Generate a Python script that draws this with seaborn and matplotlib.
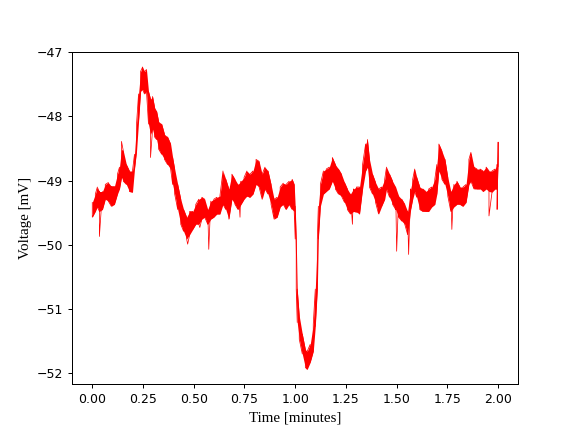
import numpy as np
import pandas as pd
import matplotlib
matplotlib.use('Agg')
import matplotlib.pyplot as plt
import seaborn as sb

# Values (upper / lower edge of the noisy band)
t_min = [0.000, 0.015, 0.025, 0.035, 0.050, 0.064, 0.079, 0.094, 0.109, 0.124,
         0.134, 0.144, 0.153, 0.168, 0.183, 0.198, 0.208, 0.218, 0.228, 0.238,
         0.248, 0.257, 0.267, 0.277, 0.287, 0.297, 0.307, 0.317, 0.327, 0.342,
         0.356, 0.371, 0.386, 0.396, 0.406, 0.421, 0.436, 0.450, 0.465, 0.480,
         0.495, 0.510, 0.525, 0.540, 0.554, 0.569, 0.584, 0.599, 0.614, 0.629,
         0.644, 0.658, 0.673, 0.688, 0.703, 0.718, 0.733, 0.748, 0.762, 0.777,
         0.792, 0.807, 0.822, 0.837, 0.851, 0.866, 0.881, 0.896, 0.911, 0.926,
         0.941, 0.955, 0.970, 0.985, 0.995, 1.000, 1.005, 1.010, 1.020, 1.035,
         1.050, 1.059, 1.074, 1.089, 1.099, 1.109, 1.114, 1.124, 1.139, 1.153,
         1.168, 1.183, 1.198, 1.213, 1.228, 1.243, 1.257, 1.272, 1.287, 1.302,
         1.317, 1.332, 1.347, 1.356, 1.366, 1.381, 1.396, 1.411, 1.426, 1.441,
         1.450, 1.465, 1.480, 1.495, 1.510, 1.525, 1.540, 1.554, 1.569, 1.579,
         1.589, 1.599, 1.614, 1.629, 1.644, 1.658, 1.673, 1.688, 1.698, 1.708,
         1.723, 1.738, 1.752, 1.767, 1.782, 1.797, 1.812, 1.827, 1.842, 1.856,
         1.866, 1.881, 1.896, 1.911, 1.926, 1.941, 1.955, 1.970, 1.985, 1.995,
         2.000]

v_hi = [-49.34, -49.21, -49.10, -49.17, -49.17, -49.06, -49.03, -49.09, -49.09, -48.90,
        -48.79, -48.51, -48.54, -48.75, -48.85, -48.85, -48.59, -48.12, -47.65, -47.30,
        -47.23, -47.30, -47.27, -47.61, -47.73, -47.69, -47.86, -47.92, -48.08, -48.12,
        -48.28, -48.32, -48.43, -48.64, -48.82, -49.06, -49.29, -49.45, -49.57, -49.48,
        -49.48, -49.37, -49.29, -49.26, -49.29, -49.45, -49.32, -49.29, -49.26, -49.24,
        -48.85, -48.98, -49.13, -48.90, -48.98, -49.06, -49.01, -48.95, -48.85, -48.90,
        -48.85, -48.67, -48.70, -48.90, -48.79, -48.85, -49.06, -49.29, -49.26, -49.10,
        -49.04, -49.06, -49.01, -48.98, -49.06, -49.40, -49.91, -50.69, -51.11, -51.39,
        -51.63, -51.66, -51.55, -51.24, -50.69, -49.91, -49.40, -49.06, -48.85, -48.82,
        -48.79, -48.64, -48.75, -48.82, -48.90, -49.03, -49.13, -49.21, -49.13, -49.10,
        -49.10, -48.75, -48.43, -48.36, -48.67, -48.90, -49.03, -49.13, -49.10, -48.98,
        -48.79, -48.90, -49.01, -49.10, -49.24, -49.29, -49.37, -49.48, -49.13, -48.98,
        -48.82, -48.95, -49.10, -49.13, -49.17, -49.13, -49.10, -48.98, -48.75, -48.43,
        -48.54, -48.67, -48.95, -49.17, -49.06, -49.01, -49.10, -49.10, -49.06, -48.67,
        -48.56, -48.79, -48.82, -48.82, -48.85, -48.79, -48.85, -48.85, -48.82, -48.75,
        -48.40]

v_lo = [-49.57, -49.48, -49.41, -49.48, -49.45, -49.29, -49.32, -49.40, -49.37, -49.21,
        -49.13, -48.95, -49.01, -49.06, -49.17, -49.18, -48.82, -48.54, -48.08, -47.61,
        -47.58, -47.65, -47.61, -48.12, -48.28, -48.20, -48.32, -48.36, -48.51, -48.59,
        -48.67, -48.75, -48.82, -49.06, -49.21, -49.45, -49.68, -49.79, -49.91, -49.84,
        -49.76, -49.68, -49.68, -49.60, -49.57, -49.68, -49.60, -49.57, -49.52, -49.52,
        -49.37, -49.45, -49.60, -49.29, -49.37, -49.45, -49.37, -49.29, -49.24, -49.26,
        -49.21, -49.06, -49.10, -49.29, -49.13, -49.21, -49.37, -49.60, -49.57, -49.41,
        -49.37, -49.45, -49.37, -49.45, -49.48, -49.91, -50.69, -51.21, -51.47, -51.70,
        -51.91, -51.94, -51.83, -51.66, -51.27, -50.69, -49.91, -49.40, -49.21, -49.17,
        -49.13, -49.01, -49.13, -49.21, -49.24, -49.34, -49.45, -49.52, -49.48, -49.49,
        -49.52, -49.13, -48.85, -48.79, -49.10, -49.21, -49.34, -49.52, -49.40, -49.29,
        -49.13, -49.26, -49.37, -49.45, -49.57, -49.63, -49.68, -49.84, -49.45, -49.29,
        -49.17, -49.26, -49.45, -49.48, -49.48, -49.48, -49.41, -49.37, -49.21, -48.85,
        -48.98, -49.06, -49.24, -49.48, -49.41, -49.37, -49.37, -49.40, -49.34, -49.06,
        -49.01, -49.13, -49.13, -49.13, -49.17, -49.13, -49.17, -49.18, -49.13, -49.13,
        -48.78]

# thin single-sample spikes
spike_t = [0.035, 0.144, 0.287, 0.470, 0.530, 0.574, 0.728, 1.282, 1.500, 1.559, 1.772, 1.955, 1.995]
spike_v = [-49.87, -48.39, -48.64, -49.99, -49.73, -50.07, -49.57, -49.68, -50.10, -50.15, -49.76, -49.55, -49.45]

# zigzag between upper and lower edge, spikes merged in by time
rows = []
for i, t in enumerate(t_min):
    if i % 2 == 0:
        rows += [(t, v_hi[i]), (t, v_lo[i])]
    else:
        rows += [(t, v_lo[i]), (t, v_hi[i])]
trace = pd.DataFrame(rows, columns=['t', 'v'])
spikes = pd.DataFrame({'t': spike_t, 'v': spike_v})
trace = pd.concat([trace, spikes]).sort_values('t', kind='stable').reset_index(drop=True)

fig, ax = plt.subplots(figsize=(6.4, 4.8), dpi=90)
ax.fill_between(t_min, v_lo, v_hi, color='red', linewidth=0)
sb.lineplot(data=trace, x='t', y='v', sort=False, estimator=None,
            color='red', linewidth=0.6, ax=ax)

ax.set_xlabel('Time [minutes]', fontfamily='Liberation Serif', fontsize=12)
ax.set_ylabel('Voltage [mV]', fontfamily='Liberation Serif', fontsize=12)
ax.set_xticks([0.0, 0.25, 0.5, 0.75, 1.0, 1.25, 1.5, 1.75, 2.0])

fig.savefig('out.png', dpi=90)
